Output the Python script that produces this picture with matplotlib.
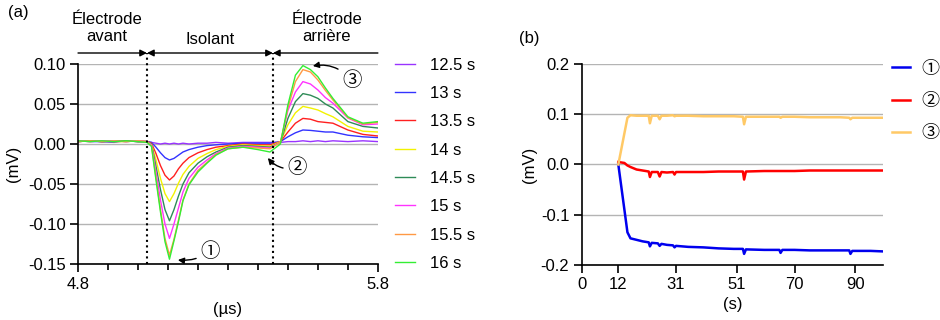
import matplotlib
matplotlib.use('Agg')
import matplotlib.pyplot as plt

plt.rcParams['font.family'] = ['Liberation Sans', 'Noto Sans CJK JP', 'DejaVu Sans']
plt.rcParams['axes.unicode_minus'] = False

# (a) signal vs time, one trace per acquisition instant
t_us = [4.80, 4.84, 4.88, 4.92, 4.96, 5.00, 5.03, 5.045, 5.06, 5.075, 5.09, 5.105,
        5.12, 5.135, 5.15, 5.17, 5.20, 5.23, 5.26, 5.30, 5.35, 5.40, 5.44, 5.475,
        5.50, 5.525, 5.55, 5.575, 5.60, 5.625, 5.65, 5.70, 5.75, 5.80]

v_125 = [0.003, 0.004, 0.003, 0.002, 0.004, 0.003, 0.003, 0.002, 0.001, 0.000, 0.001, 0.000,
         0.001, 0.000, 0.001, 0.000, 0.001, 0.001, 0.002, 0.001, 0.002, 0.002, 0.002, 0.002,
         0.003, 0.003, 0.004, 0.003, 0.004, 0.003, 0.004, 0.003, 0.004, 0.003]
v_13 = [0.004, 0.003, 0.003, 0.004, 0.003, 0.004, 0.003, 0.002, -0.004, -0.011, -0.017, -0.020,
        -0.018, -0.014, -0.010, -0.007, -0.004, -0.002, -0.001, 0.000, 0.001, 0.001, 0.001, 0.003,
        0.009, 0.014, 0.0175, 0.017, 0.016, 0.015, 0.015, 0.011, 0.009, 0.008]
v_135 = [0.003, 0.004, 0.003, 0.004, 0.004, 0.003, 0.003, 0.001, -0.012, -0.027, -0.039, -0.045,
         -0.040, -0.031, -0.024, -0.017, -0.011, -0.007, -0.004, -0.002, 0.000, -0.001, -0.001, 0.003,
         0.015, 0.026, 0.032, 0.031, 0.028, 0.027, 0.026, 0.0175, 0.012, 0.010]
v_14 = [0.004, 0.003, 0.004, 0.003, 0.003, 0.004, 0.003, 0.000, -0.020, -0.043, -0.062, -0.072,
        -0.062, -0.049, -0.038, -0.028, -0.018, -0.012, -0.007, -0.003, -0.001, -0.002, -0.003, 0.003,
        0.024, 0.039, 0.047, 0.045, 0.0425, 0.038, 0.034, 0.022, 0.016, 0.015]
v_145 = [0.003, 0.004, 0.003, 0.003, 0.004, 0.003, 0.003, 0.000, -0.028, -0.057, -0.082, -0.096,
         -0.082, -0.065, -0.050, -0.036, -0.024, -0.016, -0.010, -0.004, -0.002, -0.003, -0.004, 0.002,
         0.032, 0.053, 0.063, 0.061, 0.057, 0.050, 0.045, 0.028, 0.022, 0.020]
v_15 = [0.004, 0.003, 0.004, 0.004, 0.003, 0.004, 0.003, -0.001, -0.035, -0.070, -0.100, -0.118,
        -0.100, -0.080, -0.060, -0.043, -0.029, -0.020, -0.012, -0.005, -0.003, -0.004, -0.005, 0.002,
        0.042, 0.065, 0.078, 0.075, 0.0675, 0.058, 0.051, 0.0325, 0.024, 0.025]
v_155 = [0.003, 0.004, 0.003, 0.004, 0.003, 0.004, 0.003, -0.002, -0.042, -0.082, -0.118, -0.139,
         -0.119, -0.095, -0.070, -0.050, -0.033, -0.023, -0.013, -0.006, -0.004, -0.005, -0.006, 0.002,
         0.045, 0.078, 0.093, 0.090, 0.080, 0.067, 0.055, 0.033, 0.025, 0.027]
v_16 = [0.004, 0.003, 0.004, 0.003, 0.004, 0.003, 0.002, -0.003, -0.045, -0.085, -0.122, -0.144,
        -0.121, -0.097, -0.071, -0.051, -0.035, -0.024, -0.014, -0.006, -0.004, -0.007, -0.010, 0.000,
        0.049, 0.086, 0.098, 0.093, 0.084, 0.070, 0.057, 0.034, 0.026, 0.028]

labels_a = ['12.5 s', '13 s', '13.5 s', '14 s', '14.5 s', '15 s', '15.5 s', '16 s']
colors_a = ['#9933ff', '#3333ff', '#ff2020', '#f2f200', '#2e8b57', '#ff33ff', '#ff9944', '#33ee33']
traces_a = [v_125, v_13, v_135, v_14, v_145, v_15, v_155, v_16]

# (b) amplitude of points 1, 2, 3 vs time
t_s = [12, 13, 14, 15, 16, 18, 20, 22, 22.4, 23, 25, 25.6, 26.2, 28, 30, 30.5, 31, 35, 40, 45,
       50, 53, 53.4, 54, 60, 65, 65.4, 66, 70, 75, 80, 85, 88, 88.4, 89, 95, 99]
p1 = [0.0, -0.045, -0.09, -0.135, -0.147, -0.150, -0.153, -0.155, -0.163, -0.156,
      -0.157, -0.162, -0.158, -0.160, -0.161, -0.165, -0.162, -0.164, -0.165, -0.167,
      -0.168, -0.168, -0.178, -0.169, -0.170, -0.170, -0.176, -0.170, -0.170, -0.171,
      -0.171, -0.171, -0.171, -0.178, -0.172, -0.172, -0.173]
p2 = [0.005, 0.004, 0.003, -0.002, -0.005, -0.010, -0.012, -0.014, -0.025, -0.015,
      -0.015, -0.024, -0.015, -0.016, -0.015, -0.020, -0.015, -0.015, -0.015, -0.014,
      -0.014, -0.014, -0.030, -0.014, -0.013, -0.013, -0.013, -0.013, -0.013, -0.012,
      -0.012, -0.012, -0.012, -0.012, -0.012, -0.012, -0.012]
p3 = [0.0, 0.031, 0.062, 0.093, 0.098, 0.097, 0.097, 0.097, 0.082, 0.097,
      0.097, 0.090, 0.097, 0.097, 0.098, 0.096, 0.097, 0.097, 0.096, 0.096,
      0.096, 0.095, 0.080, 0.095, 0.095, 0.095, 0.093, 0.095, 0.095, 0.094,
      0.094, 0.094, 0.093, 0.090, 0.093, 0.093, 0.093]
labels_b = ['\u2460', '\u2461', '\u2462']
colors_b = ['#0000ee', '#ff0000', '#ffc966']

fig = plt.figure(figsize=(9.4, 3.2), dpi=100)
ax1 = fig.add_axes([0.083, 0.175, 0.319, 0.625])
ax2 = fig.add_axes([0.619, 0.172, 0.320, 0.628])

for ax in (ax1, ax2):
    ax.spines['top'].set_visible(False)
    ax.spines['right'].set_visible(False)
    for s in ('left', 'bottom'):
        ax.spines[s].set_linewidth(1.2)
    ax.tick_params(labelsize=12, width=1.2, length=5.5, direction='out')
    ax.grid(axis='y', color='#b4b4b4', lw=1)
    ax.set_axisbelow(True)

# panel a
for v, c, lab in zip(traces_a, colors_a, labels_a):
    ax1.plot(t_us, v, color=c, lw=1, label=lab)
ax1.set_xlim(4.8, 5.8)
ax1.set_ylim(-0.15, 0.10)
ax1.set_xticks([4.8, 5.8])
ax1.set_xticks([4.9, 5.0, 5.1, 5.2, 5.3, 5.4, 5.5, 5.6, 5.7], minor=True)
ax1.tick_params(axis='x', which='major', length=6)
ax1.tick_params(axis='x', which='minor', length=4, width=1.2)
ax1.set_yticks([-0.15, -0.10, -0.05, 0.00, 0.05, 0.10])
ax1.set_yticklabels(['-0.15', '-0.10', '-0.05', '0.00', '0.05', '0.10'])
ax1.set_xlabel('(\u00b5s)', fontsize=12, labelpad=7)
ax1.set_ylabel('(mV)', fontsize=12, labelpad=5)

for xb in (5.03, 5.45):
    ax1.plot([xb, xb], [-0.15, 0.1138], ls=':', color='k', lw=1.5, clip_on=False, zorder=5)

ya = 1.055
arr = dict(color='k', lw=1, shrinkA=0, shrinkB=0, mutation_scale=10)
ax1.annotate('', xy=(5.03, ya), xytext=(4.8, ya), xycoords=('data', 'axes fraction'),
             textcoords=('data', 'axes fraction'), arrowprops=dict(arrowstyle='-|>', **arr),
             annotation_clip=False)
ax1.annotate('', xy=(5.45, ya), xytext=(5.03, ya), xycoords=('data', 'axes fraction'),
             textcoords=('data', 'axes fraction'), arrowprops=dict(arrowstyle='<|-|>', **arr),
             annotation_clip=False)
ax1.annotate('', xy=(5.8, ya), xytext=(5.45, ya), xycoords=('data', 'axes fraction'),
             textcoords=('data', 'axes fraction'), arrowprops=dict(arrowstyle='<|-', **arr),
             annotation_clip=False)
ax1.text(4.897, 1.18, '\u00c9lectrode\navant', transform=ax1.get_xaxis_transform(),
         ha='center', va='center', fontsize=12, linespacing=1.2)
ax1.text(5.24, 1.12, 'Isolant', transform=ax1.get_xaxis_transform(),
         ha='center', va='center', fontsize=12)
ax1.text(5.63, 1.18, '\u00c9lectrode\narri\u00e8re', transform=ax1.get_xaxis_transform(),
         ha='center', va='center', fontsize=12, linespacing=1.2)

circ = dict(arrowstyle='-|>', color='k', lw=1, mutation_scale=9, shrinkA=1, shrinkB=0)
ax1.annotate('\u2460', xy=(5.133, -0.145), xytext=(5.24, -0.134), fontsize=14,
             ha='center', va='center', arrowprops=dict(connectionstyle='arc3,rad=-0.2', **circ))
ax1.annotate('\u2461', xy=(5.433, -0.0175), xytext=(5.53, -0.030), fontsize=14,
             ha='center', va='center', arrowprops=dict(connectionstyle='arc3,rad=-0.3', **circ))
ax1.annotate('\u2462', xy=(5.583, 0.0975), xytext=(5.713, 0.079), fontsize=14,
             ha='center', va='center', arrowprops=dict(connectionstyle='arc3,rad=0.3', **circ))

fig.legend(*ax1.get_legend_handles_labels(), loc='upper left', bbox_to_anchor=(0.420, 0.82),
           frameon=False, fontsize=12, handlelength=1.2, handletextpad=0.9, labelspacing=0.8,
           borderpad=0, borderaxespad=0)

# panel b
for v, c, lab in zip([p1, p2, p3], colors_b, labels_b):
    ax2.plot(t_s, v, color=c, lw=1.8, label=lab)
ax2.set_xlim(0, 99)
ax2.set_ylim(-0.2, 0.2)
ax2.set_xticks([0, 12, 31, 51, 70, 90])
ax2.set_yticks([-0.2, -0.1, 0.0, 0.1, 0.2])
ax2.set_yticklabels(['-0.2', '-0.1', '0.0', '0.1', '0.2'])
ax2.set_xlabel('(s)', fontsize=12, labelpad=3)
ax2.set_ylabel('(mV)', fontsize=12, labelpad=3)

fig.legend(*ax2.get_legend_handles_labels(), loc='upper left', bbox_to_anchor=(0.949, 0.81),
           frameon=False, fontsize=13, handlelength=1.0, handletextpad=0.6, labelspacing=0.85,
           borderpad=0, borderaxespad=0)

fig.text(0.008, 0.96, '(a)', fontsize=12, va='center')
fig.text(0.552, 0.88, '(b)', fontsize=12, va='center')

fig.savefig('out.png', dpi=100)
